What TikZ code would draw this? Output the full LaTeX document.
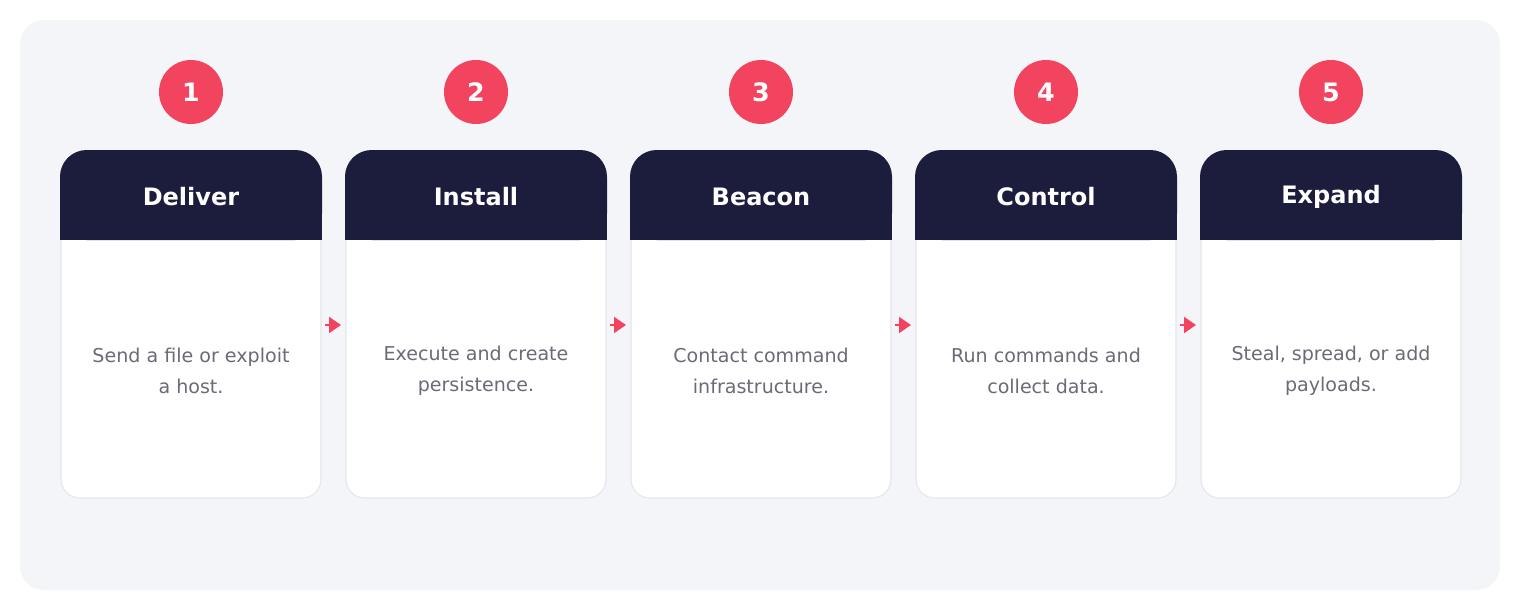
\documentclass[tikz,border=0pt]{standalone}
\usepackage{fontspec}
\setmainfont{DejaVu Sans}
\usetikzlibrary{arrows.meta}
\definecolor{panel}{HTML}{F3F5F9}
\definecolor{navy}{HTML}{1C1C3D}
\definecolor{accent}{HTML}{F2445F}
\definecolor{txt}{HTML}{6B6B78}
\definecolor{cardline}{HTML}{E3E6EC}
\begin{document}
\begin{tikzpicture}[x=0.75pt,y=-0.75pt,
  body/.style={draw=cardline,line width=0.8pt,fill=white,rounded corners=14pt},
  head/.style={fill=navy},
  htext/.style={text=white,font=\fontsize{18}{21}\selectfont\bfseries},
  btext/.style={text=txt,font=\fontsize{14.3}{23}\selectfont,align=center},
  num/.style={circle,fill=accent,minimum size=48pt,inner sep=0pt,text=white,font=\fontsize{19}{21}\selectfont\bfseries},
  arr/.style={draw=accent,line width=1.5pt,-{Triangle[length=9pt,width=12pt]}}]
\useasboundingbox (0,0) rectangle (1520,610);
\fill[white] (0,0) rectangle (1520,610);
\fill[panel,rounded corners=18pt] (20,20) rectangle (1500,590);
\foreach \i/\x/\t/\b in {1/60/Deliver/{Send a file or exploit\\a host.},2/345/Install/{Execute and create\\persistence.},3/630/Beacon/{Contact command\\infrastructure.},4/915/Control/{Run commands and\\collect data.},5/1200/Expand/{Steal, spread, or add\\payloads.}}{
  \draw[body] (\x+1,160) rectangle (\x+261,498);
  \fill[head,rounded corners=20pt] (\x,240) -- (\x,150) -- (\x+262,150) -- (\x+262,240) -- cycle;
  \fill[head] (\x,200) rectangle (\x+262,240);
  \node[htext] (h\i) at (\x+131,197) {\t};
  \node[btext] (b\i) at (\x+131,371) {\b};
  \node[num] (n\i) at (\x+131,92) {\i};
  \coordinate (r\i) at (\x+265,325);
  \coordinate (l\i) at (\x-4,325);
}
\foreach \a/\b in {1/2,2/3,3/4,4/5}{\draw[arr] (r\a) -- (l\b);}
\end{tikzpicture}
\end{document}
